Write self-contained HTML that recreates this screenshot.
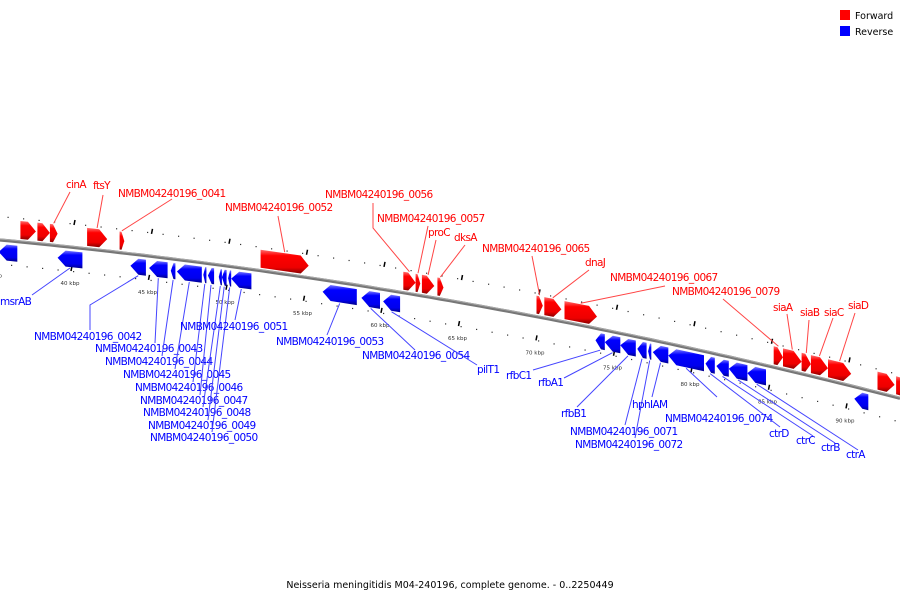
<!DOCTYPE html>
<html><head><meta charset="utf-8"><style>
body{margin:0;background:#fff}
svg{display:block;font-family:"DejaVu Sans","Liberation Sans",sans-serif}
</style></head><body>
<svg id="map" width="900" height="600" viewBox="0 0 900 600">
<defs>
<linearGradient id="gf" x1="0" y1="0" x2="0" y2="1"><stop offset="0" stop-color="#ff7070"/><stop offset="0.25" stop-color="#f00"/><stop offset="0.75" stop-color="#e00"/><stop offset="1" stop-color="#800"/></linearGradient>
<linearGradient id="gr" x1="0" y1="0" x2="0" y2="1"><stop offset="0" stop-color="#7a7aff"/><stop offset="0.25" stop-color="#00f"/><stop offset="0.75" stop-color="#00e"/><stop offset="1" stop-color="#008"/></linearGradient>
</defs>
<g id="legend">
<rect x="840" y="10" width="10" height="10" fill="#f00"/>
<text x="855" y="19" font-size="9.5" fill="#000">Forward</text>
<rect x="840" y="26" width="10" height="10" fill="#00f"/>
<text x="855" y="35" font-size="9.5" fill="#000">Reverse</text>
</g>
<text x="450" y="588" font-size="9.5" text-anchor="middle" fill="#000">Neisseria meningitidis M04-240196, complete genome. - 0..2250449</text>
</svg>
<script>
// gene data (kbp)
const geneNames = ["f1","f2","cinA","ftsY","NMBM04240196_0041","NMBM04240196_0052","NMBM04240196_0056","NMBM04240196_0057","proC","dksA","NMBM04240196_0065","dnaJ","NMBM04240196_0067","NMBM04240196_0079","siaA","siaB","siaC","siaD","f3","f4",
"r1","msrAB","NMBM04240196_0042","NMBM04240196_0043","NMBM04240196_0044","NMBM04240196_0045","NMBM04240196_0046","NMBM04240196_0047","NMBM04240196_0048","NMBM04240196_0049","NMBM04240196_0050","NMBM04240196_0051","NMBM04240196_0053","NMBM04240196_0054","pilT1","rfbC1","rfbA1","rfbB1","NMBM04240196_0071","NMBM04240196_0072","hphIAM","NMBM04240196_0074","ctrD","ctrC","ctrB","ctrA","r2"];
const geneStart = [36.8,37.9,38.7,41.1,43.2,52.3,61.5,62.3,62.7,63.7,70.1,70.6,71.9,85.4,86.0,87.2,87.8,88.9,92.1,93.3,
35.4,39.2,43.9,45.1,46.5,46.9,48.6,48.9,49.6,49.8,50.2,50.4,56.3,58.8,60.2,73.9,74.5,75.5,76.6,77.3,77.6,78.6,81.0,81.7,82.5,83.7,90.6];
const geneEnd = [37.8,38.7,39.2,42.4,43.5,55.4,62.3,62.6,63.5,64.1,70.5,71.7,74.0,86.0,87.2,87.8,88.9,90.4,93.2,94.5,
36.6,40.8,44.9,46.3,46.8,48.5,48.8,49.3,49.8,50.1,50.4,51.7,58.5,60.0,61.3,74.5,75.5,76.5,77.2,77.5,78.6,80.9,81.6,82.5,83.7,84.9,91.5];
const geneStrand = [1,1,1,1,1,1,1,1,1,1,1,1,1,1,1,1,1,1,1,1,
-1,-1,-1,-1,-1,-1,-1,-1,-1,-1,-1,-1,-1,-1,-1,-1,-1,-1,-1,-1,-1,-1,-1,-1,-1,-1,-1];
const tickKbp = [35,40,45,50,55,60,65,70,75,80,85,90,95];
// label layout: gene index, text x, baseline y, leader end x/y (optional bend)
const labels = [
 [2,66,188,70,192],[3,93,189,103,195],[4,118,197,172,199],[5,225,211,278,216],
 [6,325,198,373,203,373,228],[7,377,222,428,226],[8,428,236,436,240],[9,454,241,465,245],
 [10,482,252,532,256],[11,585,266,589,270],[12,610,281,665,286],[13,672,295,723,299],
 [14,773,311,787,314],[15,800,316,809,320],[16,824,316,833,318],[17,848,309,855,313],
 [21,0,305,32,295],[22,34,340,90,330,90,305],[23,95,352,155,343],[24,105,365,162,356],[25,123,378,175,369],
 [26,135,391,193,382],[27,140,404,200,395],[28,143,416,203,407],[29,148,429,208,420],[30,150,441,212,432],
 [31,180,330,235,320],[32,276,345,327,335],[33,362,359,415,350],[34,477,373,477,365],
 [35,506,379,533,370],[36,538,386,564,378],[37,561,417,577,407],[38,570,435,625,425],[39,575,448,635,438],
 [40,632,408,652,397],[41,665,422,717,397],[42,769,437,780,427],[43,796,444,813,436],[44,821,451,835,443],[45,846,458,858,450]
];
const NS="http://www.w3.org/2000/svg";
const svg=document.getElementById('map');
function xOf(k){return 70+(k-40)*15.5;}
function yOf(x){return 240+0.094*x+0.000091*x*x;}
function mk(tag,attrs,parent){const e=document.createElementNS(NS,tag);for(const a in attrs)e.setAttribute(a,attrs[a]);(parent||svg).appendChild(e);return e;}
// ticks
const tg=mk('g',{});


for(let k=34;k<=96;k++){const x=xOf(k);if(x<0||x>900)continue;const y=yOf(x);
 const d1=mk('rect',{x:x-0.5,y:y-24,width:1.2,height:1.2,fill:'#333'},tg);
 
 
 const d2=mk('rect',{x:x+3,y:y+24,width:1.2,height:1.2,fill:'#333'},tg);
 
 }
tickKbp.forEach(k=>{const x=xOf(k);if(x<-20||x>920)return;const y=yOf(x);
 const a=mk('line',{x1:x+5,y1:y-27,x2:x+4,y2:y-22,stroke:'#000','stroke-width':1.5},tg);
 
 
 const b=mk('line',{x1:x+2,y1:y+19,x2:x+1,y2:y+24,stroke:'#000','stroke-width':1.5},tg);
 
 
 const t=mk('text',{x:x,y:y+38,'font-size':5.5,fill:'#333','text-anchor':'middle'},tg);t.textContent=k+' kbp';
 
 });
// backbone
let pts=[];for(let x=0;x<=900;x+=10)pts.push(x+','+yOf(x).toFixed(1));
const bb=mk('polyline',{points:pts.join(' '),fill:'none',stroke:'#777','stroke-width':3.2});


const bh=mk('polyline',{points:pts.join(' '),fill:'none',stroke:'#aaa','stroke-width':1,transform:'translate(0,-1)'});


// genes
const geneAnchor=[];
geneNames.forEach((n,i)=>{
 const x1=xOf(geneStart[i]),x2=xOf(geneEnd[i]),s=geneStrand[i];
 const y1=yOf(x1),y2=yOf(x2);
 const len=x2-x1,h=Math.min(8,len*0.6);
 const t=s>0?-21:4,b=s>0?-3:20,m=(t+b)/2;
 let p;
 if(s>0){const xh=x2-h,yh=yOf(xh);
  p=[[x1,y1+t],[xh,yh+t],[x2,y2+m],[xh,yh+b],[x1,y1+b]];
 }else{const xh=x1+h,yh=yOf(xh);
  p=[[x1,y1+m],[xh,yh+t],[x2,y2+t],[x2,y2+b],[xh,yh+b]];}
 const g=mk('polygon',{points:p.map(q=>q[0].toFixed(1)+','+q[1].toFixed(1)).join(' '),fill:s>0?'url(#gf)':'url(#gr)'});
 
 
 const cx=(x1+x2)/2;geneAnchor[i]=[cx,yOf(cx)+(s>0?t-1:b+1)];
});
// labels
labels.forEach(L=>{
 const i=L[0],s=geneStrand[i],col=s>0?'#f00':'#00f',lc=s>0?'#f44':'#44f';
 const a=geneAnchor[i];
 let pp=[L[3]+','+L[4]];if(L.length>5)pp.push(L[5]+','+L[6]);pp.push(a[0].toFixed(1)+','+a[1].toFixed(1));
 const ln=mk('polyline',{points:pp.join(' '),fill:'none',stroke:lc,'stroke-width':1});
 
 
 const tx=mk('text',{x:L[1],y:L[2],'font-size':10.5,'letter-spacing':-0.65,fill:col});tx.textContent=geneNames[i];
 
 
});
</script>
</body></html>
